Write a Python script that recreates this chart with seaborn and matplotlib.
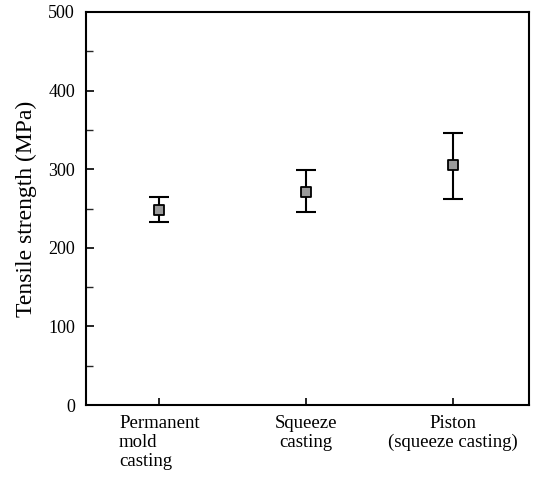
import matplotlib
matplotlib.use("Agg")
import matplotlib.pyplot as plt
import seaborn as sns
import pandas as pd
import numpy as np
from matplotlib.ticker import MultipleLocator

categories = ["Permanent\nmold\ncasting", "Squeeze\ncasting", "Piston\n(squeeze casting)"]
mean_strength = [248, 271, 305]
low_strength = [233, 245, 262]
high_strength = [265, 299, 346]
y_ticks = [0, 100, 200, 300, 400, 500]

sns.set_theme(style="ticks")
plt.rcParams['font.family'] = ['Liberation Serif', 'DejaVu Serif']

df = pd.DataFrame({"category": categories, "strength": mean_strength,
                   "low": low_strength, "high": high_strength})
df["x"] = np.arange(len(df))

fig = plt.figure(figsize=(5.41, 4.83), dpi=100)
ax = fig.add_axes([86/541, 78/483, 443/541, 393/483])

yerr = np.vstack([df["strength"] - df["low"], df["high"] - df["strength"]])
ax.errorbar(df["x"], df["strength"], yerr=yerr, fmt="none", ecolor="black",
            elinewidth=1.5, capsize=7, capthick=1.5, zorder=2)
sns.scatterplot(data=df, x="x", y="strength", marker="s", s=45, color="#9a9a9a",
                edgecolor="black", linewidth=1.3, ax=ax, zorder=3, legend=False)

ax.set_xlim(-0.5, 2.52)
ax.set_ylim(0, 500)
ax.set_yticks(y_ticks)
ax.yaxis.set_minor_locator(MultipleLocator(50))
ax.set_xticks(df["x"])
ax.set_xticklabels(df["category"], fontsize=13.5)
for lbl, ma in zip(ax.get_xticklabels(), ["left", "center", "center"]):
    lbl.set_multialignment(ma)
    lbl.set_linespacing(1.18)
ax.tick_params(axis="y", which="major", direction="in", length=6, width=1.2,
               labelsize=13, pad=8, colors="black")
ax.tick_params(axis="y", which="minor", direction="in", length=5, width=1.0)
ax.tick_params(axis="x", direction="in", length=5, width=1.2, pad=7, colors="black")
for sp in ax.spines.values():
    sp.set_visible(True)
    sp.set_linewidth(1.5)
    sp.set_color("black")
ax.set_xlabel("")
ax.set_ylabel("Tensile strength (MPa)", fontsize=17, labelpad=8, color="black")

fig.savefig("out.png", dpi=100)
